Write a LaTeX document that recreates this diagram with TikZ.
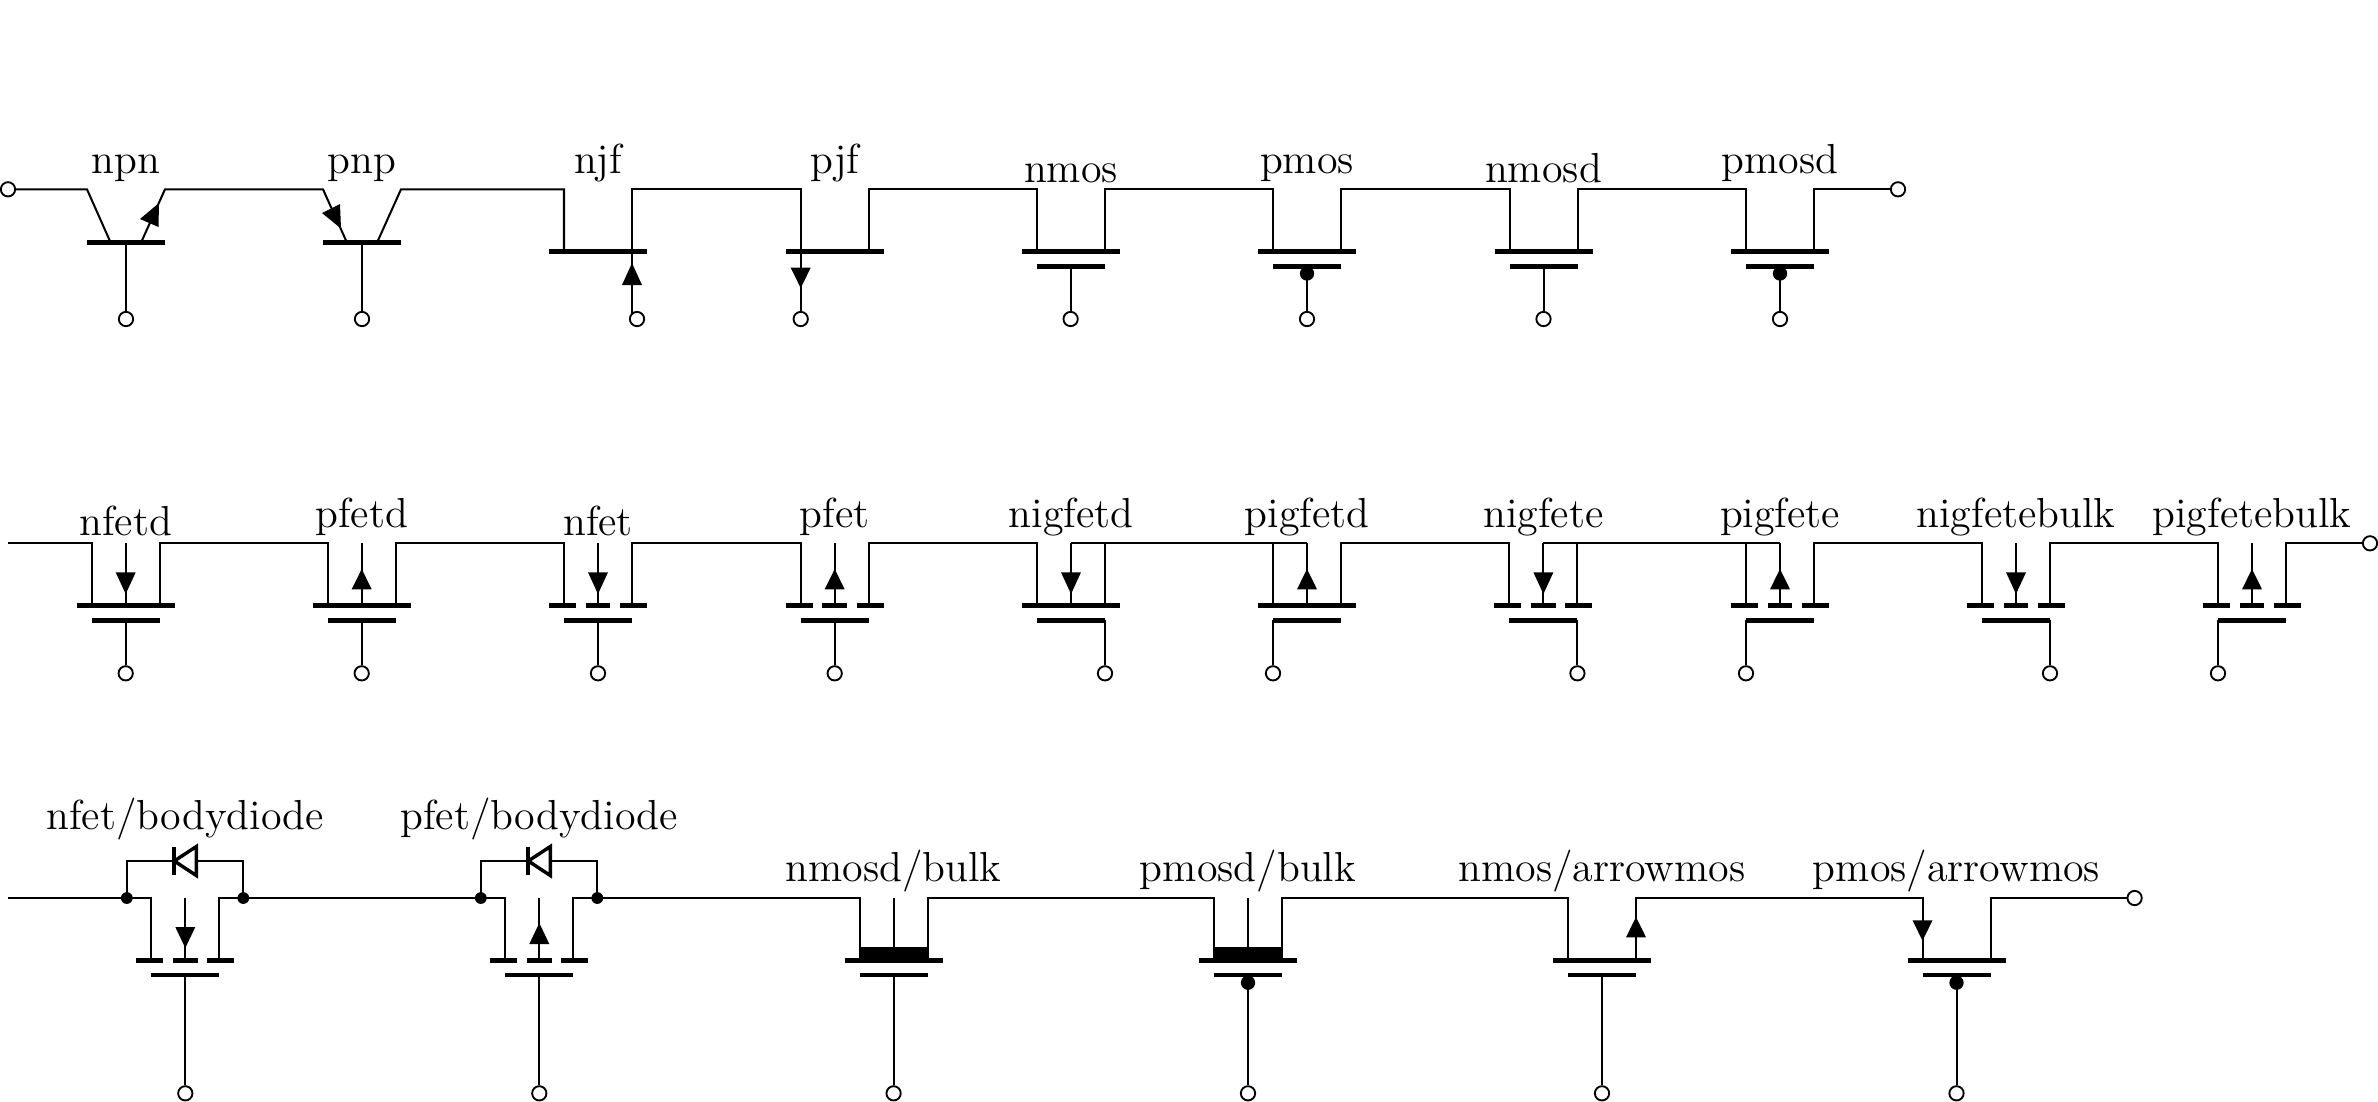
\documentclass[tikz,border=0pt]{standalone}
\tikzset{
  wire/.style={line width=0.65pt,line join=miter},
  barline/.style={line width=1.55pt},
  headfill/.style={fill=black,draw=none},
  term/.style={circle,draw,fill=white,line width=0.6pt,inner sep=0pt,minimum size=4.6pt},
  junction/.style={circle,fill=black,inner sep=0pt,minimum size=3.8pt},
  bubble/.style={circle,fill=black,inner sep=0pt,minimum size=4.6pt},
  lbl/.style={anchor=base,inner sep=0pt,font=\fontsize{13.5}{16}\selectfont},
}
% coordinates of one device: name, centre x, wire y
\newcommand{\devc}[3]{%
  \coordinate (#1-lt) at (#2-34,#3);
  \coordinate (#1-rt) at (#2+34,#3);
  \coordinate (#1-ct) at (#2,#3);
  \coordinate (#1-lb) at (#2-34,#3+62.4);
  \coordinate (#1-rb) at (#2+34,#3+62.4);
  \coordinate (#1-cb) at (#2,#3+62.4);
  \coordinate (#1-lg) at (#2-34,#3+77);
  \coordinate (#1-rg) at (#2+34,#3+77);
  \coordinate (#1-cg) at (#2,#3+77);
}
% solid channel bar
\newcommand{\fullbar}[3]{\draw[barline] (#2-49,#3+62.4) -- (#2+49,#3+62.4);}
% split channel bar
\newcommand{\splitbar}[3]{%
  \draw[barline] (#2-49,#3+62.4) -- (#2-22,#3+62.4);
  \draw[barline] (#2-12.4,#3+62.4) -- (#2+12.4,#3+62.4);
  \draw[barline] (#2+22,#3+62.4) -- (#2+49,#3+62.4);
}
\newcommand{\gatebar}[1]{\draw[barline] (#1-lg) -- (#1-rg);}
\newcommand{\stub}[1]{\draw[wire] (#1-ct) -- (#1-cb);}
\newcommand{\headdown}[3]{\fill[headfill] (#1,#2) -- (#1-10,#3) -- (#1+10,#3) -- cycle;}
\newcommand{\headup}[3]{\fill[headfill] (#1,#2) -- (#1-10,#3) -- (#1+10,#3) -- cycle;}
% body diode: name, centre x, wire y
\newcommand{\bodydiode}[3]{%
  \node[junction] (#1-dl) at (#2-58.5,#3) {};
  \node[junction] (#1-dr) at (#2+58,#3) {};
  \coordinate (#1-ca) at (#2-11,#3-37);
  \coordinate (#1-an) at (#2+11,#3-37);
  \draw[wire] (#1-dl.center) |- (#1-ca);
  \draw[wire] (#1-dr.center) |- (#1-an);
  \draw[barline,line width=1.1pt,fill=white,line join=miter] (#1-an) ++(0,-14.5) -- ++(0,29) -- (#1-ca) -- cycle;
  \draw[barline,line width=1.4pt] (#1-ca) ++(0,-14) -- ++(0,28);
}
\begin{document}
\begin{tikzpicture}[x=0.32154pt,y=-0.32154pt]
\useasboundingbox (0,0) rectangle (2378,1101);
\def\ya{189.3}\def\yb{543.3}\def\yc{898}

% ===== row 1 =====
\node[term] (ra) at (8,\ya) {};
\node[term] (rb) at (1898,\ya) {};

\node[lbl] (lnpn) at (126,173) {npn};
\node[lbl] (lpnp) at (362,173) {pnp};
\node[lbl] (lnjf) at (598,173) {njf};
\node[lbl] (lpjf) at (835,173) {pjf};
\node[lbl] (lnmos) at (1071,182) {nmos};
\node[lbl] (lpmos) at (1307,173) {pmos};
\node[lbl] (lnmosd) at (1543.5,182) {nmosd};
\node[lbl] (lpmosd) at (1780,173) {pmosd};

% npn and pnp
\coordinate (npn-ct) at (87,\ya);
\coordinate (npn-cb) at (110.7,242.7);
\coordinate (npn-et) at (165,\ya);
\coordinate (npn-eb) at (141,242.7);
\coordinate (npn-b) at (126,242.7);
\coordinate (pnp-et) at (323,\ya);
\coordinate (pnp-eb) at (347,242.7);
\coordinate (pnp-ct) at (401,\ya);
\coordinate (pnp-cb) at (377,242.7);
\coordinate (pnp-b) at (362,242.7);
\draw[barline] (87,242.7) -- (165,242.7);
\draw[barline] (323,242.7) -- (401,242.7);
\fill[headfill] (159,203) -- (140,219) -- (158.5,227) -- cycle;
\fill[headfill] (341,228.5) -- (322,213) -- (340,204) -- cycle;
\node[term] (npn-t) at (126,319) {};
\node[term] (pnp-t) at (362,319) {};
\draw[wire] (npn-b) -- (npn-t);
\draw[wire] (pnp-b) -- (pnp-t);

% jfets
\devc{njf}{598}{\ya}
\devc{pjf}{834.7}{\ya}
\fullbar{njf}{598}{\ya}
\fullbar{pjf}{834.7}{\ya}
\node[term] (njf-t) at (637,319) {};
\node[term] (pjf-t) at (800.7,319) {};
\draw[wire] (njf-rb) -- (632,314);
\draw[wire] (pjf-lb) -- (pjf-t);
\headup{632}{263}{285}
\headdown{800.7}{288}{267.7}

% mos row 1
\devc{nmos}{1070.6}{\ya}
\devc{pmos}{1307}{\ya}
\devc{nmosd}{1543.5}{\ya}
\devc{pmosd}{1780}{\ya}
\fullbar{nmos}{1070.6}{\ya}
\fullbar{pmos}{1307}{\ya}
\fullbar{nmosd}{1543.5}{\ya}
\fullbar{pmosd}{1780}{\ya}
\gatebar{nmos}\gatebar{pmos}\gatebar{nmosd}\gatebar{pmosd}
\node[term] (nmos-t) at (1070.6,319) {};
\node[term] (pmos-t) at (1307,319) {};
\node[term] (nmosd-t) at (1543.5,319) {};
\node[term] (pmosd-t) at (1780,319) {};
\draw[wire] (nmos-cg) -- (nmos-t);
\draw[wire] (pmos-cg) -- (pmos-t);
\draw[wire] (nmosd-cg) -- (nmosd-t);
\draw[wire] (pmosd-cg) -- (pmosd-t);
\node[bubble] (pmos-bub) at (1307,273.5) {};
\node[bubble] (pmosd-bub) at (1780,273.5) {};

% wire chain row 1
\draw[wire] (ra) -- (npn-ct) -- (npn-cb);
\draw[wire] (npn-eb) -- (npn-et) -- (pnp-et) -- (pnp-eb);
\draw[wire] (pnp-cb) -- (pnp-ct) -- (njf-lt) -- (njf-lb);
\draw[wire] (njf-rb) -- (njf-rt) -- (pjf-lt) -- (pjf-lb);
\draw[wire] (pjf-rb) -- (pjf-rt) -- (nmos-lt) -- (nmos-lb);
\draw[wire] (nmos-rb) -- (nmos-rt) -- (pmos-lt) -- (pmos-lb);
\draw[wire] (pmos-rb) -- (pmos-rt) -- (nmosd-lt) -- (nmosd-lb);
\draw[wire] (nmosd-rb) -- (nmosd-rt) -- (pmosd-lt) -- (pmosd-lb);
\draw[wire] (pmosd-rb) -- (pmosd-rt) -- (rb);

% ===== row 2 =====
\coordinate (sb) at (8,\yb);
\node[term] (rc) at (2370,\yb) {};

\node[lbl] (lnfetd) at (125.7,535) {nfetd};
\node[lbl] (lpfetd) at (361.7,527.5) {pfetd};
\node[lbl] (lnfet) at (598,535) {nfet};
\node[lbl] (lpfet) at (834.7,527.5) {pfet};
\node[lbl] (lnigfetd) at (1071,527.5) {nigfetd};
\node[lbl] (lpigfetd) at (1307,527.5) {pigfetd};
\node[lbl] (lnigfete) at (1543.4,527.5) {nigfete};
\node[lbl] (lpigfete) at (1780,527.5) {pigfete};
\node[lbl] (lnigb) at (2016,527.5) {nigfetebulk};
\node[lbl] (lpigb) at (2252,527.5) {pigfetebulk};

\devc{nfetd}{125.7}{\yb}
\devc{pfetd}{361.7}{\yb}
\devc{nfet}{598}{\yb}
\devc{pfet}{834.7}{\yb}
\devc{nigd}{1071}{\yb}
\devc{pigd}{1307}{\yb}
\devc{nige}{1543.4}{\yb}
\devc{pige}{1780}{\yb}
\devc{nigb}{2016}{\yb}
\devc{pigb}{2252}{\yb}

\fullbar{nfetd}{125.7}{\yb}
\fullbar{pfetd}{361.7}{\yb}
\splitbar{nfet}{598}{\yb}
\splitbar{pfet}{834.7}{\yb}
\fullbar{nigd}{1071}{\yb}
\fullbar{pigd}{1307}{\yb}
\splitbar{nige}{1543.4}{\yb}
\splitbar{pige}{1780}{\yb}
\splitbar{nigb}{2016}{\yb}
\splitbar{pigb}{2252}{\yb}

\gatebar{nfetd}\gatebar{pfetd}\gatebar{nfet}\gatebar{pfet}
\gatebar{nigd}\gatebar{pigd}\gatebar{nige}\gatebar{pige}\gatebar{nigb}\gatebar{pigb}

\foreach \n in {nfetd,pfetd,nfet,pfet,nigd,pigd,nige,pige,nigb,pigb}{\stub{\n}}

\headdown{125.7}{594}{572.3}
\headup{361.7}{569}{589.3}
\headdown{598}{594}{572.3}
\headup{834.7}{569}{589.3}
\headdown{1071}{594}{572.3}
\headup{1307}{569}{589.3}
\headdown{1543.4}{594}{572.3}
\headup{1780}{569}{589.3}
\headdown{2016}{594}{572.3}
\headup{2252}{569}{589.3}

\node[term] (nfetd-t) at (125.7,673.3) {};
\node[term] (pfetd-t) at (361.7,673.3) {};
\node[term] (nfet-t) at (598,673.3) {};
\node[term] (pfet-t) at (834.7,673.3) {};
\draw[wire] (nfetd-cg) -- (nfetd-t);
\draw[wire] (pfetd-cg) -- (pfetd-t);
\draw[wire] (nfet-cg) -- (nfet-t);
\draw[wire] (pfet-cg) -- (pfet-t);

\node[term] (nigd-t) at (1105,673.3) {};
\node[term] (pigd-t) at (1273,673.3) {};
\node[term] (nige-t) at (1577.4,673.3) {};
\node[term] (pige-t) at (1746,673.3) {};
\node[term] (nigb-t) at (2050,673.3) {};
\node[term] (pigb-t) at (2218,673.3) {};
\draw[wire] (nigd-rg) -- (nigd-t);
\draw[wire] (pigd-lg) -- (pigd-t);
\draw[wire] (nige-rg) -- (nige-t);
\draw[wire] (pige-lg) -- (pige-t);
\draw[wire] (nigb-rg) -- (nigb-t);
\draw[wire] (pigb-lg) -- (pigb-t);

% wire chain row 2
\draw[wire] (sb) -- (nfetd-lt) -- (nfetd-lb);
\draw[wire] (nfetd-rb) -- (nfetd-rt) -- (pfetd-lt) -- (pfetd-lb);
\draw[wire] (pfetd-rb) -- (pfetd-rt) -- (nfet-lt) -- (nfet-lb);
\draw[wire] (nfet-rb) -- (nfet-rt) -- (pfet-lt) -- (pfet-lb);
\draw[wire] (pfet-rb) -- (pfet-rt) -- (nigd-lt) -- (nigd-lb);
\draw[wire] (nigd-rb) -- (nigd-rt);
\draw[wire] (nigd-ct) -- (pigd-ct);
\draw[wire] (pigd-lb) -- (pigd-lt);
\draw[wire] (pigd-rb) -- (pigd-rt) -- (nige-lt) -- (nige-lb);
\draw[wire] (nige-rb) -- (nige-rt);
\draw[wire] (nige-ct) -- (pige-ct);
\draw[wire] (pige-lb) -- (pige-lt);
\draw[wire] (pige-rb) -- (pige-rt) -- (nigb-lt) -- (nigb-lb);
\draw[wire] (nigb-rb) -- (nigb-rt) -- (pigb-lt) -- (pigb-lb);
\draw[wire] (pigb-rb) -- (pigb-rt) -- (rc);

% ===== row 3 =====
\coordinate (sc) at (8,\yc);
\node[term] (rd) at (2134.6,\yc) {};

\node[lbl] (lnbd) at (185.3,829) {nfet/bodydiode};
\node[lbl] (lpbd) at (539.3,829) {pfet/bodydiode};
\node[lbl] (lnmb) at (893.6,881.5) {nmosd/bulk};
\node[lbl] (lpmb) at (1248,881.5) {pmosd/bulk};
\node[lbl] (lnam) at (1602,881.5) {nmos/arrowmos};
\node[lbl] (lpam) at (1956.5,881.5) {pmos/arrowmos};

\devc{nbd}{185.3}{\yc}
\devc{pbd}{539.3}{\yc}
\devc{nmb}{893.6}{\yc}
\devc{pmb}{1248}{\yc}
\devc{nam}{1602}{\yc}
\devc{pam}{1956.5}{\yc}

\splitbar{nbd}{185.3}{\yc}
\splitbar{pbd}{539.3}{\yc}
\fullbar{nmb}{893.6}{\yc}
\fullbar{pmb}{1248}{\yc}
\fullbar{nam}{1602}{\yc}
\fullbar{pam}{1956.5}{\yc}
\gatebar{nbd}\gatebar{pbd}\gatebar{nmb}\gatebar{pmb}\gatebar{nam}\gatebar{pam}

\stub{nbd}\stub{pbd}\stub{nmb}\stub{pmb}
\fill[black] (nmb-lb) rectangle (893.6+34,946.7);
\fill[black] (pmb-lb) rectangle (1248+34,946.7);

\headdown{185.3}{948}{927}
\headup{539.3}{923}{944}
\headup{1636}{917}{937.3}
\headdown{1922.5}{940.7}{920.3}

\node[term] (nbd-t) at (185.3,1093.3) {};
\node[term] (pbd-t) at (539.3,1093.3) {};
\node[term] (nmb-t) at (893.6,1093.3) {};
\node[term] (pmb-t) at (1248,1093.3) {};
\node[term] (nam-t) at (1602,1093.3) {};
\node[term] (pam-t) at (1956.5,1093.3) {};
\draw[wire] (nbd-cg) -- (nbd-t);
\draw[wire] (pbd-cg) -- (pbd-t);
\draw[wire] (nmb-cg) -- (nmb-t);
\draw[wire] (pmb-cg) -- (pmb-t);
\draw[wire] (nam-cg) -- (nam-t);
\draw[wire] (pam-cg) -- (pam-t);
\node[bubble] (pmb-bub) at (1248,982.7) {};
\node[bubble] (pam-bub) at (1956.5,982.7) {};

% wire chain row 3
\draw[wire] (sc) -- (nbd-lt) -- (nbd-lb);
\draw[wire] (nbd-rb) -- (nbd-rt) -- (pbd-lt) -- (pbd-lb);
\draw[wire] (pbd-rb) -- (pbd-rt) -- (nmb-lt) -- (nmb-lb);
\draw[wire] (nmb-rb) -- (nmb-rt) -- (pmb-lt) -- (pmb-lb);
\draw[wire] (pmb-rb) -- (pmb-rt) -- (nam-lt) -- (nam-lb);
\draw[wire] (nam-rb) -- (nam-rt) -- (pam-lt) -- (pam-lb);
\draw[wire] (pam-rb) -- (pam-rt) -- (rd);

\bodydiode{nbd}{185.3}{\yc}
\bodydiode{pbd}{539.3}{\yc}
\end{tikzpicture}
\end{document}
